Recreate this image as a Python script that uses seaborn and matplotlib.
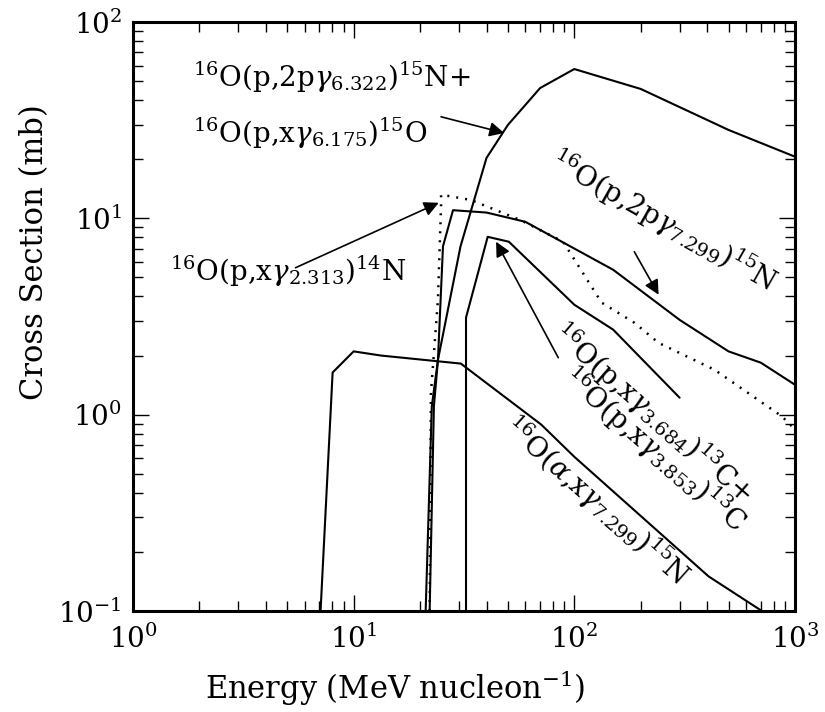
import numpy as np
import pandas as pd
import matplotlib
matplotlib.use("Agg")
import matplotlib.pyplot as plt
import seaborn as sns

# Gamma-line production cross sections on 16O (energy in MeV/nucleon, sigma in mb)
e_6322 = [21.2, 22.6, 24.1, 30.5, 40.0, 50.0, 70.0, 100.0, 200.0, 500.0, 1000.0]
s_6322 = [0.1, 1.1, 1.9, 7.2, 20.3, 29.9, 46.1, 57.6, 45.6, 28.2, 20.6]

e_7299p = [22.1, 23.1, 24.1, 25.4, 28.2, 40.0, 60.0, 150.0, 300.0, 500.0, 700.0, 1000.0]
s_7299p = [0.1, 1.1, 1.9, 7.2, 11.0, 10.7, 9.6, 5.47, 3.04, 2.1, 1.84, 1.42]

e_2313 = [22.1, 22.4, 24.1, 24.9, 24.9, 34.0, 57.0, 89.0, 133.0, 187.0, 241.0, 433.0, 873.0, 1000.0]
s_2313 = [0.1, 1.29, 3.85, 11.7, 13.2, 12.4, 9.8, 7.6, 3.72, 2.94, 2.32, 1.69, 0.98, 0.84]

e_3684 = [32.3, 32.3, 40.5, 50.5, 100.0, 150.0, 300.0]
s_3684 = [0.1, 3.12, 8.05, 7.6, 3.63, 2.71, 1.22]

e_alpha = [7.08, 8.03, 10.0, 13.3, 30.6, 70.8, 100.0, 406.0, 708.0]
s_alpha = [0.1, 1.64, 2.1, 2.0, 1.82, 0.89, 0.61, 0.15, 0.1]

x_ticks = [1, 10, 100, 1000]
y_ticks = [0.1, 1, 10, 100]

sns.set_theme(style="ticks")
plt.rcParams["font.family"] = ["DejaVu Serif"]
plt.rcParams["mathtext.fontset"] = "dejavuserif"
for key in ["text.color", "axes.labelcolor", "xtick.color", "ytick.color",
            "axes.edgecolor"]:
    plt.rcParams[key] = "black"

fig = plt.figure(figsize=(8.25, 7.12), dpi=100)
ax = fig.add_axes([0.1612, 0.1419, 0.8024, 0.8272])

for e, s in [(e_6322, s_6322), (e_7299p, s_7299p),
             (e_3684, s_3684), (e_alpha, s_alpha)]:
    sns.lineplot(x=e, y=s, sort=False, estimator=None, color="black",
                 linewidth=1.5, ax=ax)
sns.lineplot(x=e_2313, y=s_2313, sort=False, estimator=None, color="black",
             linewidth=1.8, ax=ax)
ax.lines[-1].set_linestyle((0, (0.8, 2.8)))

ax.set_xscale("log")
ax.set_yscale("log")
ax.set_xlim(1, 1000)
ax.set_ylim(0.1, 100)
ax.set_xticks(x_ticks)
ax.set_yticks(y_ticks)

for sp in ax.spines.values():
    sp.set_linewidth(2.2)
    sp.set_color("black")
ax.tick_params(which="both", direction="in", top=True, right=True,
               color="black", width=1.0)
ax.tick_params(which="major", length=11.5, labelsize=20)
ax.tick_params(axis="x", which="major", pad=10)
ax.tick_params(axis="y", which="major", pad=8)
ax.tick_params(which="minor", length=7)

ax.set_xlabel(r"Energy (MeV nucleon$^{-1}$)", fontsize=22)
ax.set_ylabel("Cross Section (mb)", fontsize=22)
ax.xaxis.set_label_coords(0.396, -0.098)
ax.yaxis.set_label_coords(-0.125, 0.61)

tfs = 20
arrow = dict(arrowstyle="-|>", color="black", lw=1.2, mutation_scale=22,
             shrinkA=0, shrinkB=0)

ax.text(1.87, 52.5, r"$^{16}$O(p,2p$\gamma_{6.322}$)$^{15}$N+", fontsize=tfs,
        ha="left", va="center")
ax.text(1.87, 27.2, r"$^{16}$O(p,x$\gamma_{6.175}$)$^{15}$O", fontsize=tfs,
        ha="left", va="center")
ax.annotate("", xy=(48.1, 27.2), xytext=(24.9, 32.9), arrowprops=arrow)

ax.text(5.07, 5.35, r"$^{16}$O(p,x$\gamma_{2.313}$)$^{14}$N", fontsize=tfs,
        ha="center", va="center")
ax.annotate("", xy=(24.3, 12.0), xytext=(5.45, 5.6), arrowprops=arrow)

ax.text(254, 9.6, r"$^{16}$O(p,2p$\gamma_{7.299}$)$^{15}$N", fontsize=tfs,
        ha="center", va="center", rotation=-29.5, rotation_mode="anchor")
ax.annotate("", xy=(241, 4.08), xytext=(187, 6.76), arrowprops=arrow)

ax.text(226, 1.02, r"$^{16}$O(p,x$\gamma_{3.684}$)$^{13}$C+", fontsize=tfs,
        ha="center", va="center", rotation=-41, rotation_mode="anchor")
ax.text(229, 0.664, r"$^{16}$O(p,x$\gamma_{3.853}$)$^{13}$C", fontsize=tfs,
        ha="center", va="center", rotation=-41, rotation_mode="anchor")
ax.annotate("", xy=(44.2, 7.6), xytext=(84.6, 1.95), arrowprops=arrow)

ax.text(125, 0.36, r"$^{16}$O($\alpha$,x$\gamma_{7.299}$)$^{15}$N", fontsize=tfs,
        ha="center", va="center", rotation=-41.6, rotation_mode="anchor")

fig.savefig("out.png", dpi=100)
